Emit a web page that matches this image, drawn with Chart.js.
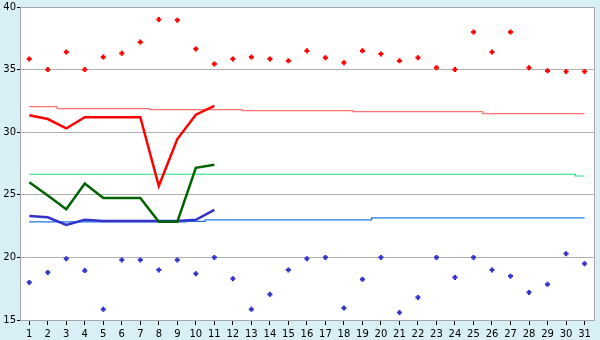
<!DOCTYPE html>
<html>
<head>
<meta charset="utf-8">
<script src="https://cdn.jsdelivr.net/npm/chart.js@4"></script>
<style>
  html, body { margin: 0; padding: 0; background: #d8eff6; }
  #wrap { width: 600px; height: 340px; }
</style>
</head>
<body>
<div id="wrap"><canvas id="dayChart" width="600" height="340"></canvas></div>
<script>
// Días del mes (etiquetas del eje X)
const days = ['1', '2', '3', '4', '5', '6', '7', '8', '9', '10', '11', '12', '13', '14', '15', '16',
              '17', '18', '19', '20', '21', '22', '23', '24', '25', '26', '27', '28', '29', '30', '31'];

// Marcas del eje Y
const yTicks = [15, 20, 25, 30, 35, 40];

// Máximos diarios (cruces rojas)
const highPoints = [35.85, 35.0, 36.4, 35.0, 36.0, 36.3, 37.2, 39.0, 38.95, 36.65, 35.45, 35.85, 36.0, 35.85, 35.7, 36.5,
                    35.95, 35.55, 36.5, 36.25, 35.7, 35.95, 35.15, 35.0, 38.0, 36.4, 38.0, 35.15, 34.9, 34.85, 34.85];

// Mínimos diarios (cruces azules)
const lowPoints = [18.0, 18.8, 19.9, 18.95, 15.85, 19.8, 19.8, 19.0, 19.8, 18.7, 20.0, 18.3, 15.85, 17.05, 19.0, 19.9,
                   20.0, 15.95, 18.25, 20.0, 15.6, 16.8, 20.0, 18.4, 20.0, 19.0, 18.5, 17.2, 17.85, 20.3, 19.5];

// Series del mes en curso (días 1-11)
const maxLine = [31.35, 31.05, 30.3, 31.2, 31.2, 31.2, 31.2, 25.7, 29.45, 31.4, 32.1];
const meanLine = [26.0, 24.95, 23.85, 25.9, 24.75, 24.75, 24.75, 22.85, 22.85, 27.15, 27.4];
const minLine = [23.3, 23.2, 22.6, 23.0, 22.9, 22.9, 22.9, 22.9, 22.9, 23.0, 23.8];

// Promedios históricos (líneas finas)
const maxAvg = [32.04, 32.04, 31.88, 31.88, 31.88, 31.88, 31.88, 31.8, 31.8, 31.8, 31.8, 31.8, 31.72, 31.72, 31.72, 31.72,
                31.72, 31.72, 31.64, 31.64, 31.64, 31.64, 31.64, 31.64, 31.64, 31.48, 31.48, 31.48, 31.48, 31.48, 31.48];
const meanAvg = [26.64, 26.64, 26.64, 26.64, 26.64, 26.64, 26.64, 26.64, 26.64, 26.64, 26.64, 26.64, 26.64, 26.64, 26.64, 26.64,
                 26.64, 26.64, 26.64, 26.64, 26.64, 26.64, 26.64, 26.64, 26.64, 26.64, 26.64, 26.64, 26.64, 26.64, 26.5];
const minAvg = [22.83, 22.83, 22.83, 22.83, 22.83, 22.83, 22.83, 22.83, 22.83, 22.88, 23.0, 23.0, 23.0, 23.0, 23.0, 23.0,
                23.0, 23.0, 23.0, 23.15, 23.15, 23.15, 23.15, 23.15, 23.15, 23.15, 23.15, 23.15, 23.15, 23.15, 23.15];

document.addEventListener('DOMContentLoaded', function() {
  initializeDayChart();
});

// Fondo blanco y borde gris del área de trazado
const plotAreaPlugin = {
  id: 'plotArea',
  beforeDraw: function(chart) {
    const ctx = chart.ctx;
    const a = chart.chartArea;
    ctx.save();
    ctx.fillStyle = '#ffffff';
    ctx.fillRect(a.left, a.top, a.right - a.left, a.bottom - a.top);
    ctx.restore();
  },
  beforeDatasetsDraw: function(chart) {
    const ctx = chart.ctx;
    const a = chart.chartArea;
    ctx.save();
    ctx.strokeStyle = '#a8a8a8';
    ctx.lineWidth = 1;
    ctx.strokeRect(Math.round(a.left) + 0.5, Math.round(a.top) + 0.5,
                   Math.round(a.right - a.left), Math.round(a.bottom - a.top));
    ctx.restore();
  }
};

function lineSet(data, color, width, stepped) {
  return {
    data: data,
    borderColor: color,
    backgroundColor: color,
    borderWidth: width,
    pointRadius: 0,
    tension: 0,
    stepped: stepped || false,
    fill: false
  };
}

function pointSet(data, color) {
  return {
    data: data,
    showLine: false,
    borderColor: color,
    backgroundColor: color,
    pointStyle: 'cross',
    pointRadius: 2.5,
    pointBorderWidth: 2.2,
    fill: false
  };
}

function initializeDayChart() {
  const ctx = document.getElementById('dayChart').getContext('2d');

  // El primer conjunto se dibuja encima
  const datasets = [
    pointSet(highPoints, '#ff0000'),
    pointSet(lowPoints, '#3333cc'),
    lineSet(maxLine, '#ff0000', 2.5),
    lineSet(meanLine, '#006400', 2.5),
    lineSet(minLine, '#3333cc', 2.5),
    lineSet(maxAvg, '#ff7070', 1.2, 'middle'),
    lineSet(meanAvg, '#22e080', 1.2, 'middle'),
    lineSet(minAvg, '#1a78e0', 1.2, 'middle')
  ];

  window.dayChart = new Chart(ctx, {
    type: 'line',
    data: { labels: days, datasets: datasets },
    plugins: [plotAreaPlugin],
    options: {
      responsive: false,
      animation: false,
      layout: { padding: { top: 5, right: 5, left: 0, bottom: 0 } },
      plugins: {
        legend: { display: false },
        tooltip: { enabled: false }
      },
      scales: {
        x: {
          offset: true,
          afterFit: function(scale) { scale.height = 20; },
          border: { display: false },
          grid: {
            drawOnChartArea: false,
            offset: false,
            tickLength: 5,
            tickColor: '#000000'
          },
          ticks: {
            autoSkip: false,
            maxRotation: 0,
            padding: 3,
            color: '#000000',
            font: { family: 'DejaVu Sans', size: 10 }
          }
        },
        y: {
          min: 15,
          max: 40,
          afterFit: function(scale) { scale.width = 20; },
          afterBuildTicks: function(scale) {
            scale.ticks = yTicks.map(v => ({ value: v }));
          },
          border: { display: false },
          grid: {
            color: '#b0b0b0',
            tickLength: 3,
            tickColor: '#000000'
          },
          ticks: {
            padding: 1,
            color: '#000000',
            font: { family: 'DejaVu Sans', size: 10 }
          }
        }
      }
    }
  });
}
</script>
</body>
</html>
